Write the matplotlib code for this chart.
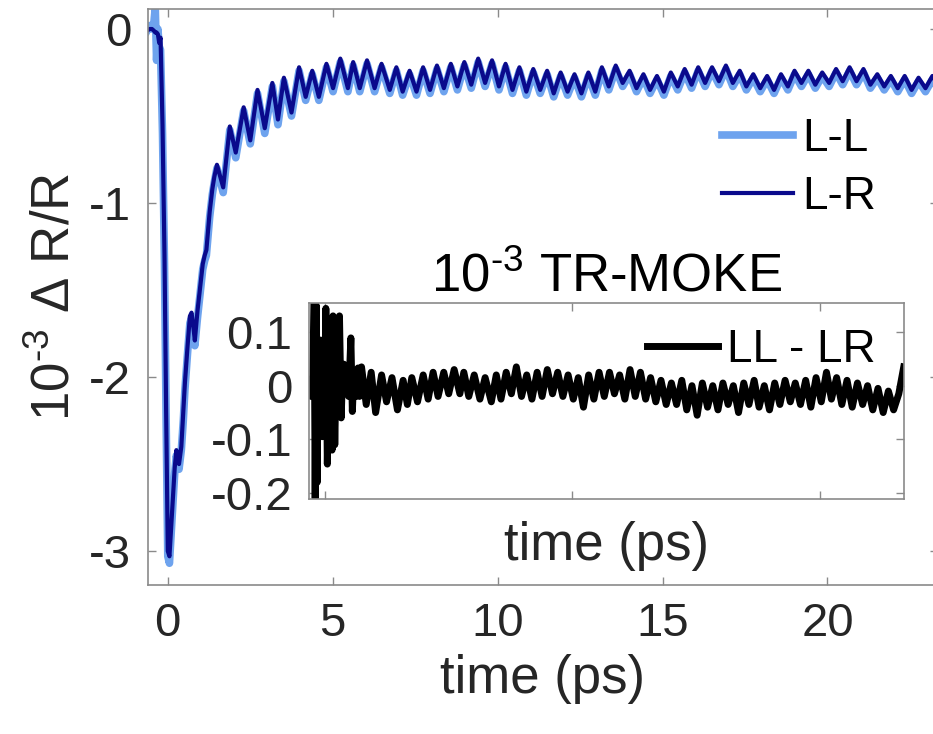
import matplotlib
matplotlib.use("Agg")
import matplotlib.pyplot as plt

plt.rcParams['font.family'] = ['Liberation Sans', 'DejaVu Sans']
plt.rcParams['mathtext.fontset'] = 'custom'
plt.rcParams['mathtext.rm'] = 'Liberation Sans'
plt.rcParams['mathtext.it'] = 'Liberation Sans'
plt.rcParams['axes.unicode_minus'] = False

# time axis (ps), shared by all curves
t = [-0.63, -0.55, -0.48, -0.42, -0.38, -0.34, -0.30, -0.26, -0.22, -0.16, -0.10, -0.05,
     0.00, 0.05, 0.11, 0.17, 0.21, 0.26, 0.30, 0.34, 0.41, 0.47, 0.52, 0.60,
     0.67, 0.72, 0.78, 0.82, 0.90, 0.97, 1.06, 1.12, 1.17, 1.27, 1.35, 1.41,
     1.49, 1.68, 1.88, 2.06, 2.30, 2.50, 2.72, 2.94, 3.17, 3.34, 3.52, 3.75,
     3.98, 4.18, 4.38, 4.58, 4.81, 5.01, 5.23, 5.46, 5.62, 5.82, 6.04, 6.27,
     6.48, 6.73, 6.93, 7.12, 7.33, 7.54, 7.74, 7.95,
     8.16, 8.37, 8.58, 8.78, 8.99, 9.20, 9.41, 9.62, 9.83, 10.04, 10.24, 10.45,
     10.66, 10.87, 11.08, 11.29, 11.50, 11.70, 11.91, 12.12, 12.33, 12.54, 12.75, 12.96,
     13.16, 13.37, 13.58, 13.79, 14.00, 14.21, 14.42, 14.62, 14.83, 15.04, 15.25, 15.46,
     15.67, 15.88, 16.08, 16.29, 16.50, 16.71, 16.92, 17.13, 17.34, 17.54, 17.75, 17.96,
     18.17, 18.38, 18.59, 18.80, 19.00, 19.21, 19.42, 19.63, 19.84, 20.05, 20.26, 20.46,
     20.67, 20.88, 21.09, 21.30, 21.51, 21.72, 21.92, 22.13, 22.34, 22.55, 22.76, 22.97,
     23.18, 23.38]

# L-R trace (10^-3 dR/R)
lr = [-0.01, 0.00, 0.00, -0.01, -0.02, -0.02, -0.03, -0.08, -0.05, -0.55, -1.30, -2.20,
      -3.00, -3.03, -2.84, -2.65, -2.52, -2.42, -2.47, -2.50, -2.40, -2.20, -2.03, -1.82,
      -1.65, -1.63, -1.72, -1.79, -1.62, -1.50, -1.35, -1.30, -1.27, -1.05, -0.92, -0.85,
      -0.78, -0.91, -0.56, -0.71, -0.45, -0.64, -0.35, -0.57, -0.31, -0.52, -0.28, -0.48,
      -0.22, -0.39, -0.24, -0.39, -0.20, -0.34, -0.17, -0.34, -0.19, -0.34, -0.18, -0.34,
      -0.20, -0.35, -0.22, -0.36, -0.24, -0.36, -0.22, -0.35,
      -0.21, -0.34, -0.20, -0.33, -0.19, -0.32, -0.17, -0.31, -0.18, -0.33, -0.20, -0.35,
      -0.22, -0.36, -0.23, -0.35, -0.24, -0.37, -0.25, -0.36, -0.26, -0.37, -0.25, -0.36,
      -0.22, -0.33, -0.21, -0.31, -0.24, -0.34, -0.26, -0.35, -0.27, -0.36, -0.25, -0.33,
      -0.23, -0.32, -0.22, -0.31, -0.22, -0.30, -0.21, -0.31, -0.24, -0.33, -0.26, -0.34,
      -0.27, -0.35, -0.26, -0.33, -0.24, -0.31, -0.24, -0.32, -0.25, -0.31, -0.23, -0.30,
      -0.22, -0.30, -0.23, -0.32, -0.26, -0.33, -0.27, -0.34, -0.27, -0.35, -0.28, -0.34,
      -0.27, -0.33]

# L-L trace (10^-3 dR/R)
ll = [-0.01, 0.02, 0.00, 0.04, 0.12, -0.18, 0.00, -0.10, -0.12, -0.60, -1.35, -2.25,
      -3.03, -3.07, -2.88, -2.68, -2.55, -2.45, -2.50, -2.53, -2.42, -2.25, -2.07, -1.86,
      -1.69, -1.66, -1.75, -1.82, -1.66, -1.54, -1.38, -1.33, -1.30, -1.08, -0.95, -0.88,
      -0.80, -0.94, -0.58, -0.74, -0.47, -0.66, -0.37, -0.60, -0.33, -0.55, -0.30, -0.50,
      -0.24, -0.41, -0.26, -0.41, -0.22, -0.36, -0.19, -0.36, -0.21, -0.36, -0.20, -0.36,
      -0.22, -0.37, -0.24, -0.38, -0.26, -0.38, -0.24, -0.37,
      -0.23, -0.36, -0.22, -0.35, -0.21, -0.34, -0.19, -0.33, -0.20, -0.35, -0.22, -0.37,
      -0.24, -0.38, -0.25, -0.37, -0.26, -0.39, -0.27, -0.38, -0.28, -0.39, -0.27, -0.38,
      -0.24, -0.35, -0.23, -0.33, -0.26, -0.36, -0.28, -0.37, -0.29, -0.38, -0.27, -0.35,
      -0.25, -0.34, -0.24, -0.33, -0.24, -0.32, -0.23, -0.33, -0.26, -0.35, -0.28, -0.36,
      -0.29, -0.37, -0.28, -0.35, -0.26, -0.33, -0.26, -0.34, -0.27, -0.33, -0.25, -0.32,
      -0.24, -0.32, -0.25, -0.34, -0.28, -0.35, -0.29, -0.36, -0.29, -0.37, -0.30, -0.36,
      -0.29, -0.35]

# LL - LR difference (10^-3 TR-MOKE), inset
diff = [0.01, -0.02, 0.02, 0.157, -0.21, 0.15, -0.18, 0.06, -0.04, 0.085, -0.095, 0.07,
        -0.05, 0.144, -0.146, 0.03, -0.06, 0.05, -0.12, 0.13, -0.11, 0.04, -0.03, 0.13,
        -0.06, 0.02, 0.04, -0.015, 0.03, -0.02, 0.089, -0.048, 0.01, -0.02, 0.033, -0.02,
        0.035, -0.035, 0.025, -0.05, 0.02, -0.03, 0.015, -0.045, 0.01, -0.035, 0.015, -0.03,
        0.02, -0.025, 0.025, -0.02, 0.025, -0.015, 0.03, -0.015, 0.025, -0.02, 0.02, -0.025,
        0.015, -0.03, 0.02, -0.025, 0.025, -0.015, 0.035, -0.02,
        0.02, -0.025, 0.025, -0.02, 0.03, -0.015, 0.025, -0.02, 0.02, -0.025, 0.015, -0.04,
        0.02, -0.025, 0.025, -0.02, 0.025, -0.015, 0.02, -0.025, 0.03, -0.02, 0.025, -0.025,
        0.015, -0.03, 0.01, -0.035, 0.005, -0.035, 0.01, -0.045, 0.0, -0.055, 0.005, -0.04,
        0.0, -0.045, 0.005, -0.035, 0.0, -0.05, 0.005, -0.035, 0.01, -0.04, 0.0, -0.045,
        0.005, -0.035, 0.01, -0.03, 0.005, -0.035, 0.01, -0.04, 0.015, -0.03, 0.025, -0.025,
        0.015, -0.035, 0.01, -0.04, 0.005, -0.035, 0.0, -0.045, -0.005, -0.05, -0.01, -0.045,
        -0.015, 0.035]

main_xticks = [0, 5, 10, 15, 20]
main_yticks = [-3, -2, -1, 0]
inset_xticks = [0, 10, 20]
inset_yticks = [-0.2, -0.1, 0, 0.1]

spine_col = '#8a8a8a'
text_col = '#262626'
W, H = 933, 734

fig = plt.figure(figsize=(9.33, 7.34), dpi=100)

# main axes (right edge runs slightly past the picture, as in the original)
ax = fig.add_axes([148 / W, 1 - 585 / H, (938 - 148) / W, (585 - 9) / H])
ax.plot(t, ll, color='#6ea3ee', lw=5.5, solid_joinstyle='round', label='L-L')
ax.plot(t, lr, color='#0a0a8c', lw=3.0, solid_joinstyle='round', label='L-R')
ax.set_xlim(-0.6, 23.35)
ax.set_ylim(-3.195, 0.115)
ax.set_xticks(main_xticks)
ax.set_yticks(main_yticks)
ax.set_xlabel('time (ps)', fontsize=38, color=text_col, labelpad=6)
ax.set_ylabel(r'10$^{\text{-}3}$ $\Delta$ R/R', fontsize=38, color=text_col, labelpad=6)
ax.tick_params(direction='in', length=6, width=1, top=True, right=True,
               labelsize=34, colors=text_col, pad=12)
for s in ax.spines.values():
    s.set_color(spine_col)
    s.set_linewidth(1.2)
ax.tick_params(color=spine_col)
ax.legend(loc='upper left', bbox_to_anchor=(722 / W, 1 - 117 / H),
          bbox_transform=fig.transFigure, frameon=False, fontsize=33,
          handlelength=1.55, handletextpad=0.2, labelspacing=0.3, borderpad=0,
          borderaxespad=0)

# inset axes
ins = fig.add_axes([309 / W, 1 - 499 / H, (904 - 309) / W, (499 - 303) / H])
ins.plot(t, diff, color='black', lw=5, solid_joinstyle='round', label='LL - LR')
ins.set_xlim(-0.63, 23.39)
ins.set_ylim(-0.211, 0.154)
ins.set_xticks(inset_xticks)
ins.set_xticklabels([])
ins.set_yticks(inset_yticks)
ins.set_yticklabels(['-0.2', '-0.1', '0', '0.1'])
ins.set_xlabel('time (ps)', fontsize=38, color=text_col, labelpad=4)
ins.set_title(r'10$^{\text{-}3}$ TR-MOKE', fontsize=38, color='black', pad=8)
ins.tick_params(direction='in', length=6, width=1, top=True, right=True,
                labelsize=34, colors=text_col, pad=12)
for s in ins.spines.values():
    s.set_color(spine_col)
    s.set_linewidth(1.2)
ins.tick_params(color=spine_col)
ins.legend(loc='upper left', bbox_to_anchor=(647 / W, 1 - 328 / H),
           bbox_transform=fig.transFigure, frameon=False, fontsize=33,
           handlelength=1.55, handletextpad=0.2, borderpad=0, borderaxespad=0)

fig.savefig('out.png', dpi=100)
